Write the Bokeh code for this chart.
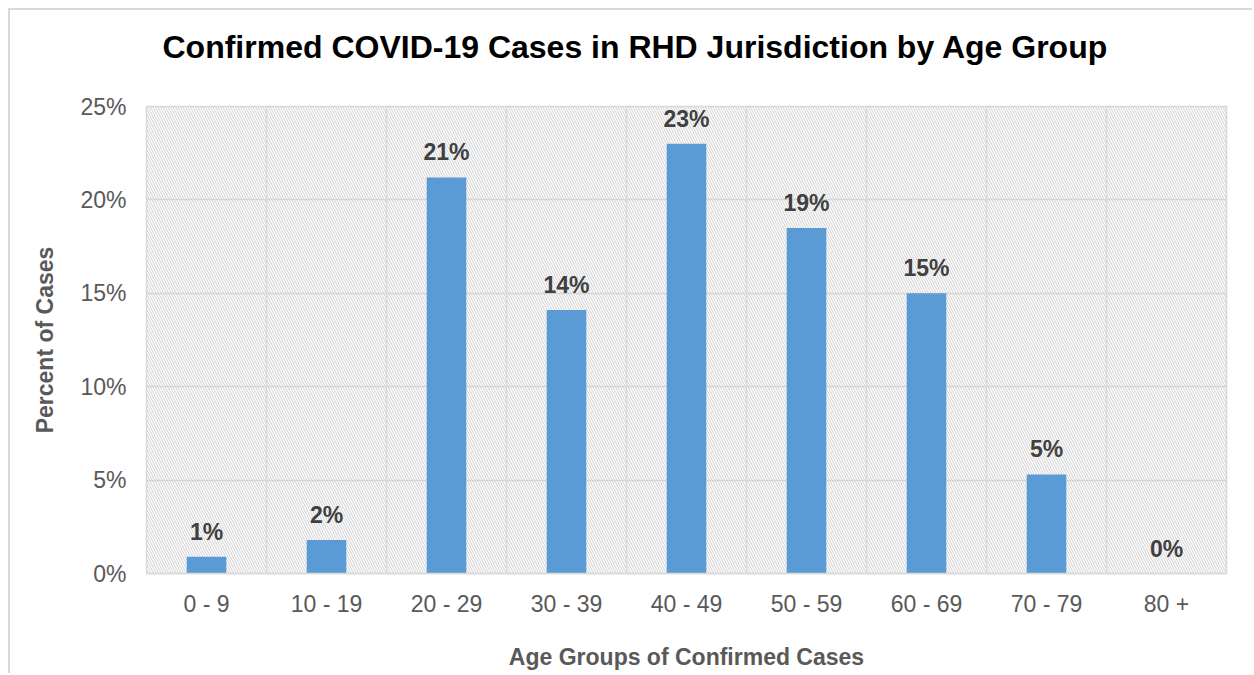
from bokeh.plotting import figure
from bokeh.models import (ColumnDataSource, LabelSet, Span, BoxAnnotation, Range1d,
                          PrintfTickFormatter, FixedTicker, Title)
from bokeh.core.properties import value
from bokeh.embed import file_html
from bokeh.resources import INLINE

age_groups = ["0 - 9", "10 - 19", "20 - 29", "30 - 39", "40 - 49",
              "50 - 59", "60 - 69", "70 - 79", "80 +"]
percent = [0.9, 1.8, 21.2, 14.1, 23.0, 18.5, 15.0, 5.3, 0.0]
bar_labels = ["1%", "2%", "21%", "14%", "23%", "19%", "15%", "5%", "0%"]
y_ticks = [0, 5, 10, 15, 20, 25]
title_text = "Confirmed COVID-19 Cases in RHD Jurisdiction by Age Group"

FONT = "Liberation Sans"
GRID = "#d9d9d9"
TXT = "#595959"

source = ColumnDataSource(dict(group=age_groups, pct=percent, lab=bar_labels))

p = figure(x_range=age_groups, y_range=Range1d(0, 25),
           width=1244, height=665, output_backend="svg", toolbar_location=None,
           min_border_left=136, min_border_right=28, min_border_top=96, min_border_bottom=102)
p.styles = {"border-left": "2px solid #d9d9d9", "border-top": "2px solid #d9d9d9",
            "margin-left": "8px", "margin-top": "8px"}
p.title = None

# blank spacer panel between title and plot frame, then the title itself
p.add_layout(Title(text=" ", text_font_size="1px", standoff=34), "above")
p.add_layout(Title(text=title_text, text_font=FONT, text_font_size="32px",
                   text_font_style="bold", text_color="#000000",
                   align="left", offset=16, standoff=10), "above")

p.background_fill_color = "white"
p.border_fill_color = "white"
p.outline_line_color = GRID
p.outline_line_width = 1.5

hatch = BoxAnnotation(fill_alpha=0, line_alpha=0, hatch_pattern="\\",
                      hatch_color="#cfcfcf", hatch_scale=5, hatch_weight=1, level="underlay")
p.add_layout(hatch)

p.xgrid.grid_line_color = None
p.ygrid.grid_line_color = GRID
p.ygrid.grid_line_width = 1.5
p.yaxis.ticker = FixedTicker(ticks=y_ticks)

for i in range(1, len(age_groups)):
    p.add_layout(Span(location=i, dimension="height", line_color=GRID, line_width=1.5,
                      level="underlay"))

p.vbar(x="group", top="pct", width=0.33, source=source,
       fill_color="#5b9bd5", line_color=None)

p.add_layout(LabelSet(x="group", y="pct", text="lab", source=source,
                      text_align="center", text_baseline="alphabetic", y_offset=17,
                      text_font=value(FONT), text_font_size=value("23px"),
                      text_font_style="bold", text_color="#404040"))

p.yaxis.formatter = PrintfTickFormatter(format="%d%%")
for ax in (p.xaxis, p.yaxis):
    ax.major_tick_line_color = None
    ax.minor_tick_line_color = None
    ax.major_label_text_font = FONT
    ax.major_label_text_font_size = "23px"
    ax.major_label_text_color = TXT
    ax.axis_label_text_font = FONT
    ax.axis_label_text_font_size = "23px"
    ax.axis_label_text_font_style = "bold"
    ax.axis_label_text_color = TXT

p.yaxis.axis_line_color = None
p.yaxis.major_label_standoff = 14
p.yaxis.axis_label = "Percent of Cases"
p.yaxis.axis_label_standoff = 19

p.xaxis.axis_line_color = GRID
p.xaxis.axis_line_width = 1.5
p.xaxis.major_label_standoff = 11
p.xaxis.axis_label = "Age Groups of Confirmed Cases"
p.xaxis.axis_label_standoff = 24

open("out.html", "w").write(file_html(p, INLINE))
